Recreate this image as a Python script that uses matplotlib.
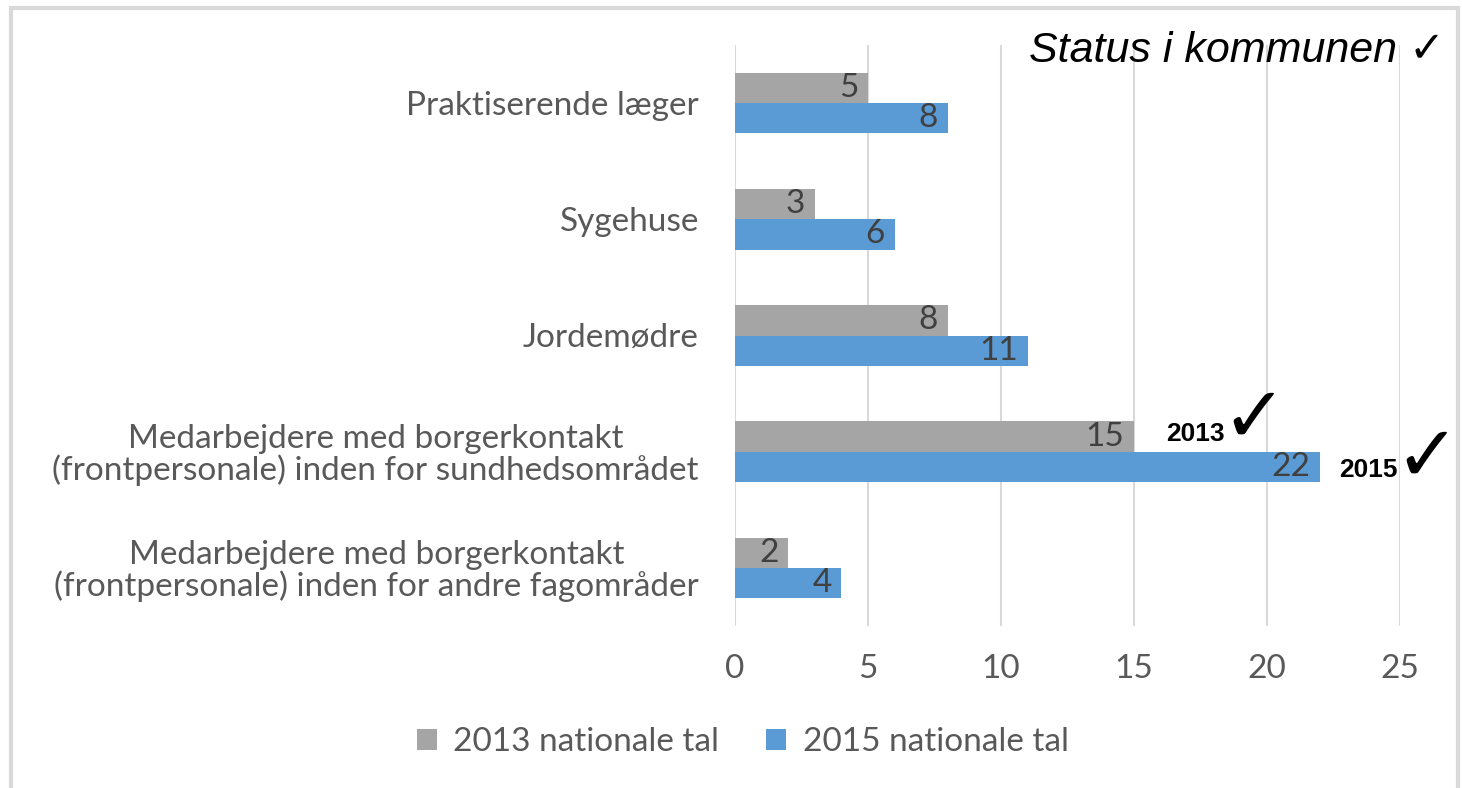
import numpy as np
import matplotlib.pyplot as plt
from matplotlib.patches import Rectangle

# Data
categories = [
    "Praktiserende læger",
    "Sygehuse",
    "Jordemødre",
    "Medarbejdere med borgerkontakt\n(frontpersonale) inden for sundhedsområdet",
    "Medarbejdere med borgerkontakt\n(frontpersonale) inden for andre fagområder",
]
values_2013 = [5, 3, 8, 15, 2]
values_2015 = [8, 6, 11, 22, 4]
series_names = ["2013 nationale tal", "2015 nationale tal"]
xticks = [0, 5, 10, 15, 20, 25]

gray = "#A5A5A5"
blue = "#5B9BD5"
txt = "#595959"
lblfont = "Lato"

fig = plt.figure(figsize=(14.62, 7.88), dpi=100)
ax = fig.add_axes([735 / 1462, 1 - 626 / 788, (1400 - 735) / 1462, (626 - 45) / 788])

y = np.arange(len(categories))
h = 0.26
b13 = ax.barh(y - h / 2, values_2013, height=h, color=gray, label=series_names[0], zorder=2)
b15 = ax.barh(y + h / 2, values_2015, height=h, color=blue, label=series_names[1], zorder=2)

# data labels inside the bar ends
for bars, vals in [(b13, values_2013), (b15, values_2015)]:
    for rect, v in zip(bars, vals):
        ax.annotate(str(v), (v, rect.get_y() + rect.get_height() / 2),
                    xytext=(-7, 0), textcoords="offset points",
                    ha="right", va="center", fontsize=24, color="#404040",
                    family=lblfont, zorder=3)

ax.set_xlim(0, 25)
ax.set_ylim(len(categories) - 0.5, -0.5)
ax.set_xticks(xticks)
ax.set_yticks(y)
ax.set_yticklabels(categories, multialignment="center", linespacing=1.0)
ax.tick_params(axis="both", length=0, labelsize=24, labelcolor=txt)
ax.tick_params(axis="y", pad=26)
ax.tick_params(axis="x", pad=20)
for lab in ax.get_xticklabels() + ax.get_yticklabels():
    lab.set_family(lblfont)
ax.grid(axis="x", color="#D9D9D9", linewidth=1.5, zorder=0)
ax.set_axisbelow(True)
for s in ax.spines.values():
    s.set_visible(False)

# hand-written style marks for the municipality status
idx = 3
ax.text(values_2013[idx] + 1.2, idx - h / 2 - 0.02, "2013", fontsize=19, fontweight="bold",
        family="Liberation Sans", ha="left", va="center", zorder=4)
ax.text(values_2013[idx] + 3.3, idx - h / 2 - 0.15, "✓", fontsize=56, fontweight="bold",
        family="DejaVu Sans", ha="left", va="center", zorder=4)
ax.text(values_2015[idx] + 0.7, idx + h / 2 + 0.03, "2015", fontsize=19, fontweight="bold",
        family="Liberation Sans", ha="left", va="center", zorder=4)
ax.text(values_2015[idx] + 2.8, idx + h / 2 - 0.07, "✓", fontsize=56, fontweight="bold",
        family="DejaVu Sans", ha="left", va="center", zorder=4)

fig.text(1445 / 1462, 1 - 62 / 788, "Status i kommunen ✓", fontsize=31, style="italic",
         family=["Liberation Sans", "DejaVu Sans"], ha="right", va="baseline")

fig.legend(handles=[b13, b15], loc="center", bbox_to_anchor=(0.508, 0.058), ncol=2,
           frameon=False, handlelength=0.6, handleheight=0.6, handletextpad=0.5,
           columnspacing=1.4, prop={"family": lblfont, "size": 24}, labelcolor=txt)

fig.add_artist(Rectangle((11 / 1462, -0.05), (1458 - 11) / 1462, 1.05 - 8 / 788,
                         transform=fig.transFigure, fill=False, ec="#D9D9D9", lw=3))

fig.savefig("out.png", dpi=100)
